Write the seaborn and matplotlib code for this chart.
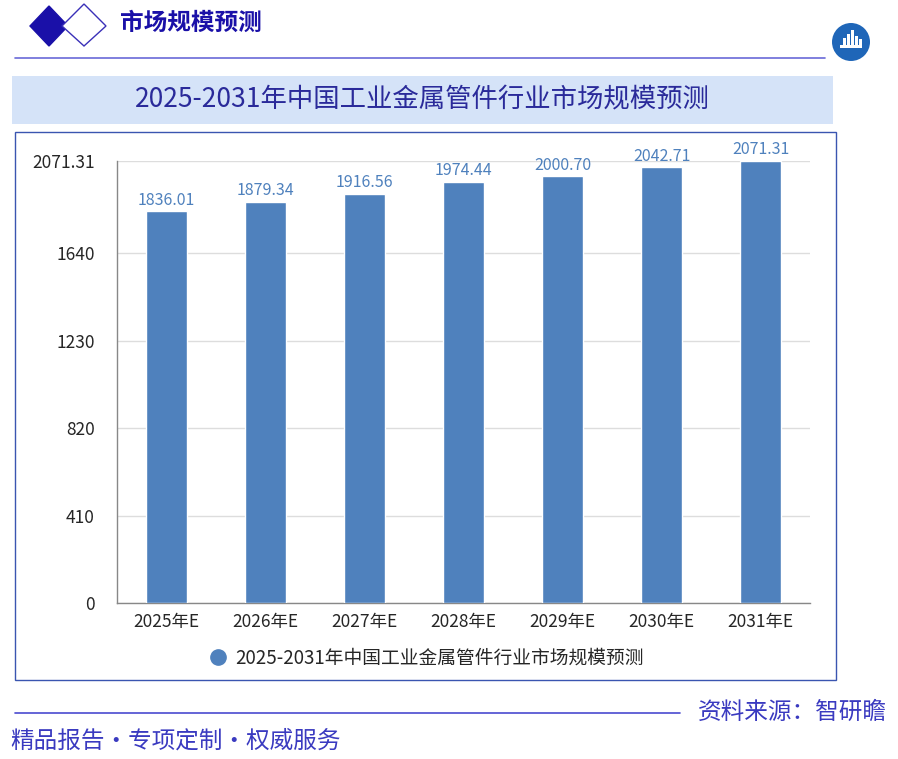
import pandas as pd
import matplotlib.pyplot as plt
import matplotlib.patches as mpatches
from matplotlib.lines import Line2D
import seaborn as sns

# Chart data
years = ['2025年E', '2026年E', '2027年E', '2028年E', '2029年E', '2030年E', '2031年E']
market_size = [1836.01, 1879.34, 1916.56, 1974.44, 2000.70, 2042.71, 2071.31]
y_ticks = [0, 410, 820, 1230, 1640, 2071.31]
y_tick_labels = ['0', '410', '820', '1230', '1640', '2071.31']
series_name = '2025-2031年中国工业金属管件行业市场规模预测'

sns.set_style('white')
plt.rcParams['font.family'] = ['Noto Sans CJK SC', 'DejaVu Sans']

W, H = 898, 759
fig = plt.figure(figsize=(W / 100, H / 100), dpi=100)
fig.patch.set_facecolor('white')


def fx(x):
    return x / W


def fy(y):
    return 1 - y / H


bar_color = '#4f81bd'
dark_blue = '#1a10a8'

# Header: diamonds, title, rule, logo
fig.patches.append(mpatches.Polygon(
    [(fx(30), fy(26)), (fx(49), fy(6)), (fx(68), fy(26)), (fx(49), fy(46))],
    closed=True, transform=fig.transFigure, facecolor=dark_blue, edgecolor=dark_blue))
fig.patches.append(mpatches.Polygon(
    [(fx(62), fy(26)), (fx(84), fy(4)), (fx(106), fy(26)), (fx(84), fy(46))],
    closed=True, transform=fig.transFigure, facecolor='white', edgecolor='#3a30b8', lw=1))
fig.text(fx(120), fy(23), '市场规模预测', fontsize=17, fontweight='bold',
         color=dark_blue, va='center', ha='left')
fig.lines.append(Line2D([fx(15), fx(825)], [fy(58), fy(58)], transform=fig.transFigure,
                        color='#6a6ad8', lw=1.2))
fig.patches.append(mpatches.Ellipse((fx(851), fy(42)), 38 / W, 38 / H,
                                    transform=fig.transFigure, facecolor='#1f66b8', edgecolor='none'))
fig.patches.append(mpatches.Rectangle((fx(840), fy(48)), 22 / W, 3 / H,
                                      transform=fig.transFigure, facecolor='white', edgecolor='none'))
for bx, bh in [(843, 8), (847, 12), (851, 16), (855, 10), (859, 7)]:
    fig.patches.append(mpatches.Rectangle((fx(bx), fy(46)), 2.5 / W, bh / H,
                                          transform=fig.transFigure, facecolor='white', edgecolor='none'))

# Title band
fig.patches.append(mpatches.Rectangle((fx(12), fy(124)), (833 - 12) / W, (124 - 76) / H,
                                      transform=fig.transFigure, facecolor='#d5e3f8', edgecolor='none'))
fig.text(fx(422), fy(100), series_name, fontsize=19, color='#2a2a9a',
         ha='center', va='center')

# Chart frame
fig.patches.append(mpatches.Rectangle((fx(15), fy(680)), (836 - 15) / W, (680 - 132) / H,
                                      transform=fig.transFigure, facecolor='none',
                                      edgecolor='#3a55b0', lw=1))

# Bar chart
ax = fig.add_axes([fx(117), fy(603), (810 - 117) / W, (603 - 161) / H])
df = pd.DataFrame({'year': years, 'value': market_size})
sns.barplot(data=df, x='year', y='value', color=bar_color, width=0.42,
            saturation=1, ax=ax, zorder=3)
ax.set_ylim(0, 2071.31)
ax.set_xlim(-0.5, len(years) - 0.5)
ax.set_yticks(y_ticks)
ax.set_yticklabels(y_tick_labels, fontsize=12.5)
ax.tick_params(axis='y', length=4, color='#888888', pad=12)
ax.set_xticks([i - 0.5 for i in range(len(years) + 1)], minor=False)
ax.set_xticklabels([])
ax.set_xticks(range(len(years)), minor=True)
ax.set_xticklabels(years, minor=True, fontsize=12.5)
ax.tick_params(axis='x', which='major', length=5, color='#888888', direction='out')
ax.tick_params(axis='x', which='minor', length=0, pad=7)
ax.grid(axis='y', color='#dddddd', lw=1, zorder=0)
ax.set_xlabel('')
ax.set_ylabel('')
for side in ['top', 'right']:
    ax.spines[side].set_visible(False)
for side in ['left', 'bottom']:
    ax.spines[side].set_color('#888888')
    ax.spines[side].set_linewidth(1)

for i, v in enumerate(market_size):
    ax.text(i, v + 12, f'{v:.2f}', ha='center', va='bottom', fontsize=11.5,
            color=bar_color, zorder=4)

# Legend
handle = Line2D([], [], marker='o', linestyle='none', markersize=11,
                markerfacecolor=bar_color, markeredgecolor=bar_color)
fig.legend([handle], [series_name], loc='center', bbox_to_anchor=(fx(425), fy(658)),
           frameon=False, fontsize=13.5, handletextpad=0.3, handlelength=1.2)

# Footer
fig.lines.append(Line2D([fx(15), fx(680)], [fy(713), fy(713)], transform=fig.transFigure,
                        color='#4a4ad0', lw=1.2))
fig.text(fx(887), fy(712), '资料来源：智研瞻', fontsize=17, color='#3a3ac0',
         ha='right', va='center')
fig.text(fx(10), fy(741), '精品报告•专项定制•权威服务', fontsize=17, color='#3a3ac0',
         ha='left', va='center')

fig.savefig('out.png', dpi=100)
plt.close(fig)
